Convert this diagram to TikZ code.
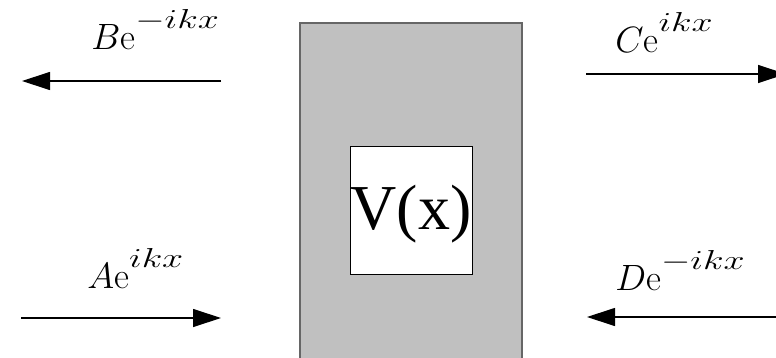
\RequirePackage{fix-cm}
\documentclass[tikz,border=0pt]{standalone}
\usepackage{fontspec}
\newfontfamily\timesfont{Liberation Serif}
\usetikzlibrary{arrows.meta}
\definecolor{wellGray}{HTML}{C0C0C0}
\newcommand{\wavesup}[1]{\raisebox{10.5pt}{\fontsize{13.7}{16}\selectfont\scalebox{1.38}[1]{$#1$}}}

\begin{document}
\begin{tikzpicture}[
        x=0.5pt, y=-0.5pt, >={Triangle[length=14pt,width=9pt]},
        wave/.style={font=\fontsize{18.3}{22}\selectfont, anchor=base west, inner sep=0pt},
        arr/.style={->, line width=0.6pt},
        well/.style={draw=black!60, fill=wellGray, line width=0.6pt, minimum width=111pt, minimum height=178.5pt, inner sep=0pt},
        pot/.style={draw, fill=white, line width=0.5pt, minimum width=61pt, minimum height=64pt, inner sep=0pt,
              text height=24pt, text depth=4.7pt, font=\timesfont\fontsize{32}{38}\selectfont}]
        \useasboundingbox (0,0) rectangle (776,358);
        % barrier
        \node[well] (well) at (411,201.5) {};
        \node[pot] (pot) at (411,210) {V(x)};
        % waves
        \node[wave] (waveB) at (91,50) {$B\mathrm{e}$\wavesup{-ikx}};
        \node[wave] (waveC) at (615,53) {$C\mathrm{e}$\wavesup{ikx}};
        \node[wave] (waveA) at (87,288) {$A\mathrm{e}$\wavesup{ikx}};
        \node[wave] (waveD) at (615,290) {$D\mathrm{e}$\wavesup{-ikx}};
        \coordinate (bFrom) at (221,81); \coordinate (bTo) at (22,81);
        \coordinate (cFrom) at (586,74); \coordinate (cTo) at (786,74);
        \coordinate (aFrom) at (21,318); \coordinate (aTo) at (221,318);
        \coordinate (dFrom) at (776,317); \coordinate (dTo) at (587,317);
        \draw[arr] (bFrom)--(bTo); \draw[arr] (cFrom)--(cTo);
        \draw[arr] (aFrom)--(aTo); \draw[arr] (dFrom)--(dTo);
      \end{tikzpicture}
\end{document}
